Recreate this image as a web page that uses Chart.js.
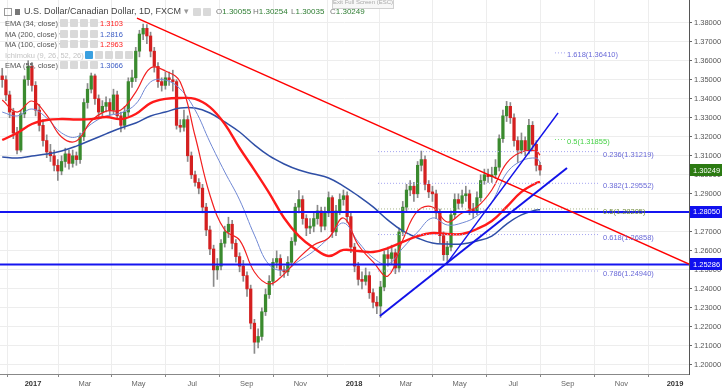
<!DOCTYPE html>
<html>
<head>
<meta charset="utf-8">
<script src="https://cdn.jsdelivr.net/npm/chart.js@4.4.1/dist/chart.umd.min.js"></script>
<style>
html,body{margin:0;padding:0;background:#fff;}
#wrap{position:relative;width:722px;height:391px;overflow:hidden;background:#fff;}
#c{position:absolute;left:0;top:0;}
.hd{position:absolute;font-family:"Liberation Sans",Arial,sans-serif;white-space:nowrap;line-height:1;}
.ib{position:absolute;width:8px;height:8px;background:#d9d9d9;border-radius:1px;}
.lg{font-size:7.5px;color:#555;}
</style>
</head>
<body>
<div id="wrap">
<canvas id="c" width="722" height="391"></canvas>
<!-- header -->
<div class="hd" style="left:4px;top:8px;width:6px;height:6px;border:1px solid #999;"></div>
<div class="hd" style="left:15px;top:9px;width:5px;height:6px;background:#777;"></div>
<div class="hd" style="left:24px;top:7px;font-size:9px;color:#444;">U.S. Dollar/Canadian Dollar, 1D, FXCM <span style="color:#999">▾</span></div>
<div class="ib" style="left:193px;top:8px;"></div>
<div class="ib" style="left:203px;top:8px;"></div>
<div class="hd" style="left:216px;top:8px;font-size:8px;color:#777;">O<span style="color:#2e7d32">1.30055</span></div>
<div class="hd" style="left:253px;top:8px;font-size:8px;color:#777;">H<span style="color:#2e7d32">1.30254</span></div>
<div class="hd" style="left:291px;top:8px;font-size:8px;color:#777;">L<span style="color:#2e7d32">1.30035</span></div>
<div class="hd" style="left:330px;top:8px;font-size:8px;color:#777;">C<span style="color:#2e7d32">1.30249</span></div>
<div class="hd" style="left:332px;top:-3px;width:60px;height:9px;border:1px solid #d0d0d0;background:#f7f7f7;font-size:6px;color:#aaa;text-align:center;padding-top:1px;">Exit Full Screen (ESC)</div>
<!-- legend rows -->
<div class="hd lg" style="left:5px;top:20px;">EMA (34, close) <span style="color:#aaa">▾</span></div>
<div class="ib" style="left:60px;top:19px;"></div><div class="ib" style="left:70px;top:19px;"></div><div class="ib" style="left:80px;top:19px;"></div><div class="ib" style="left:90px;top:19px;"></div>
<div class="hd lg" style="left:100px;top:20px;color:#ff2020;">1.3103</div>

<div class="hd lg" style="left:5px;top:31px;">MA (200, close) <span style="color:#aaa">▾</span></div>
<div class="ib" style="left:60px;top:30px;"></div><div class="ib" style="left:70px;top:30px;"></div><div class="ib" style="left:80px;top:30px;"></div><div class="ib" style="left:90px;top:30px;"></div>
<div class="hd lg" style="left:100px;top:31px;color:#3b5cc5;">1.2816</div>

<div class="hd lg" style="left:5px;top:41px;">MA (100, close) <span style="color:#aaa">▾</span></div>
<div class="ib" style="left:60px;top:40px;"></div><div class="ib" style="left:70px;top:40px;"></div><div class="ib" style="left:80px;top:40px;"></div><div class="ib" style="left:90px;top:40px;"></div>
<div class="hd lg" style="left:100px;top:41px;color:#ff2020;">1.2963</div>

<div class="hd lg" style="left:5px;top:52px;color:#c4c4c4;">Ichimoku (9, 26, 52, 26) <span>▾</span></div>
<div class="ib" style="left:85px;top:51px;background:#3aa0e0;"></div><div class="ib" style="left:95px;top:51px;"></div><div class="ib" style="left:105px;top:51px;"></div><div class="ib" style="left:115px;top:51px;"></div><div class="ib" style="left:125px;top:51px;"></div>

<div class="hd lg" style="left:5px;top:62px;">EMA (55, close) <span style="color:#aaa">▾</span></div>
<div class="ib" style="left:60px;top:61px;"></div><div class="ib" style="left:70px;top:61px;"></div><div class="ib" style="left:80px;top:61px;"></div><div class="ib" style="left:90px;top:61px;"></div>
<div class="hd lg" style="left:100px;top:62px;color:#3b5cc5;">1.3066</div>
</div>

<script>
// ---------- DATA ----------
// x axis: calendar days counted from 1 Jan 2017
const tickDays   = [0, 59, 120, 181, 243, 304, 365, 424, 485, 546, 608, 669, 730];
const tickLabels = ['2017','Mar','May','Jul','Sep','Nov','2018','Mar','May','Jul','Sep','Nov','2019'];
const yTicks = [1.20,1.21,1.22,1.23,1.24,1.25,1.26,1.27,1.28,1.29,1.30,1.31,1.32,1.33,1.34,1.35,1.36,1.37,1.38];

// candles (each candle ~3 trading days), first candle late Nov 2016
const candleStartDay = -35;
const candleStepDays = 4.217;
const opens = [
1.352,1.350,1.342,1.333,1.322,1.313,1.332,1.350,1.357,1.347,
1.334,1.326,1.318,1.312,1.310,1.305,1.302,1.307,1.311,1.306,
1.310,1.308,1.320,1.338,1.345,1.352,1.340,1.333,1.336,1.338,
1.334,1.342,1.331,1.326,1.333,1.349,1.351,1.365,1.374,1.377,
1.373,1.365,1.357,1.349,1.347,1.351,1.350,1.349,1.326,1.325,
1.329,1.310,1.300,1.296,1.293,1.283,1.271,1.261,1.250,1.252,
1.264,1.270,1.274,1.264,1.257,1.252,1.247,1.240,1.222,1.212,
1.215,1.228,1.237,1.244,1.254,1.256,1.250,1.249,1.254,1.265,
1.283,1.287,1.277,1.272,1.273,1.277,1.281,1.273,1.280,1.288,
1.270,1.281,1.287,1.289,1.278,1.262,1.252,1.245,1.244,1.247,
1.238,1.233,1.231,1.241,1.258,1.256,1.259,1.251,1.270,1.283,
1.292,1.294,1.290,1.305,1.308,1.295,1.291,1.290,1.280,1.268,
1.258,1.262,1.279,1.287,1.285,1.289,1.290,1.282,1.281,1.288,
1.297,1.300,1.299,1.300,1.304,1.319,1.331,1.336,1.330,1.318,
1.313,1.318,1.313,1.326,1.316,1.305];
const highs = [
1.356,1.352,1.344,1.335,1.325,1.334,1.352,1.360,1.359,1.349,
1.337,1.329,1.321,1.316,1.313,1.308,1.310,1.314,1.313,1.313,
1.312,1.322,1.340,1.348,1.3535,1.353,1.342,1.339,1.341,1.340,
1.345,1.344,1.333,1.336,1.351,1.355,1.367,1.376,1.3793,1.379,
1.375,1.367,1.359,1.351,1.354,1.354,1.355,1.350,1.329,1.334,
1.331,1.312,1.302,1.298,1.295,1.285,1.273,1.263,1.256,1.266,
1.273,1.2777,1.276,1.266,1.259,1.255,1.249,1.242,1.224,1.219,
1.230,1.240,1.247,1.256,1.260,1.258,1.252,1.257,1.267,1.285,
1.2917,1.289,1.279,1.277,1.280,1.284,1.283,1.283,1.291,1.289,
1.284,1.290,1.292,1.291,1.280,1.264,1.254,1.249,1.251,1.249,
1.240,1.236,1.244,1.260,1.262,1.263,1.261,1.272,1.286,1.295,
1.297,1.296,1.307,1.3125,1.310,1.297,1.294,1.292,1.282,1.270,
1.265,1.281,1.290,1.290,1.292,1.294,1.292,1.285,1.291,1.300,
1.303,1.303,1.304,1.308,1.321,1.334,1.3386,1.338,1.332,1.320,
1.322,1.320,1.3292,1.328,1.318,1.3065];
const lows = [
1.346,1.339,1.330,1.319,1.311,1.312,1.330,1.347,1.344,1.331,
1.323,1.315,1.309,1.307,1.302,1.297,1.300,1.304,1.303,1.304,
1.305,1.306,1.318,1.335,1.343,1.337,1.330,1.331,1.333,1.331,
1.332,1.329,1.3225,1.324,1.331,1.346,1.349,1.362,1.371,1.369,
1.362,1.354,1.346,1.344,1.345,1.347,1.344,1.324,1.3225,1.323,
1.307,1.298,1.294,1.290,1.280,1.268,1.258,1.2413,1.245,1.250,
1.262,1.267,1.261,1.254,1.249,1.244,1.236,1.219,1.2061,1.209,
1.213,1.226,1.235,1.242,1.251,1.247,1.246,1.247,1.252,1.263,
1.280,1.274,1.268,1.269,1.270,1.274,1.270,1.271,1.278,1.267,
1.268,1.279,1.284,1.275,1.259,1.249,1.242,1.240,1.242,1.235,
1.230,1.227,1.225,1.239,1.252,1.253,1.248,1.249,1.268,1.281,
1.289,1.286,1.288,1.302,1.292,1.288,1.286,1.277,1.264,1.255,
1.2527,1.260,1.277,1.282,1.283,1.286,1.279,1.277,1.279,1.286,
1.295,1.296,1.296,1.298,1.302,1.317,1.328,1.327,1.315,1.3065,
1.311,1.310,1.311,1.313,1.302,1.2998];
const closes = [
1.350,1.342,1.333,1.322,1.313,1.332,1.350,1.357,1.347,1.334,
1.326,1.318,1.312,1.310,1.305,1.302,1.307,1.311,1.306,1.310,
1.308,1.320,1.338,1.345,1.352,1.340,1.333,1.336,1.338,1.334,
1.342,1.331,1.326,1.333,1.349,1.351,1.365,1.374,1.377,1.373,
1.365,1.357,1.349,1.347,1.351,1.350,1.349,1.326,1.325,1.329,
1.310,1.300,1.296,1.293,1.283,1.271,1.261,1.250,1.252,1.264,
1.270,1.274,1.264,1.257,1.252,1.247,1.240,1.222,1.212,1.215,
1.228,1.237,1.244,1.254,1.256,1.250,1.249,1.254,1.265,1.283,
1.287,1.277,1.272,1.273,1.277,1.281,1.273,1.280,1.288,1.270,
1.281,1.287,1.289,1.278,1.262,1.252,1.245,1.244,1.247,1.238,
1.233,1.231,1.241,1.258,1.256,1.259,1.251,1.270,1.283,1.292,
1.294,1.290,1.305,1.308,1.295,1.291,1.290,1.280,1.268,1.258,
1.262,1.279,1.287,1.285,1.289,1.290,1.282,1.281,1.288,1.297,
1.300,1.299,1.300,1.304,1.319,1.331,1.336,1.330,1.318,1.313,
1.318,1.313,1.326,1.316,1.305,1.3025];

// moving averages read at these candle indices
const maIdx = [0,4,8,12,16,20,24,28,32,36,40,44,48,52,56,60,64,68,72,76,80,84,88,92,96,100,104,108,112,116,120,124,128,132,136,140,144,145];
const ema34 = [1.3393,1.3330,1.3388,1.3314,1.3199,1.3178,1.3283,1.3335,1.3341,1.3435,1.3562,1.3546,1.3488,1.3204,1.2894,1.2710,1.2657,1.2489,1.2426,1.2478,1.2563,1.2631,1.2668,1.2773,1.2631,1.2542,1.2468,1.2657,1.2810,1.2831,1.2752,1.2799,1.2831,1.2920,1.3062,1.3120,1.3125,1.3103];
const ma200 = [1.3094,1.3088,1.3099,1.3109,1.3125,1.3151,1.3183,1.3215,1.3246,1.3272,1.3309,1.3330,1.3351,1.3351,1.3325,1.3278,1.3225,1.3157,1.3099,1.3057,1.3025,1.3004,1.2983,1.2941,1.2889,1.2831,1.2762,1.2705,1.2668,1.2641,1.2636,1.2636,1.2652,1.2678,1.2741,1.2789,1.2815,1.2816];
const ma100 = [1.3183,1.3220,1.3267,1.3288,1.3293,1.3291,1.3293,1.3304,1.3293,1.3320,1.3377,1.3399,1.3404,1.3399,1.3356,1.3267,1.3141,1.3025,1.2904,1.2773,1.2678,1.2615,1.2573,1.2605,1.2599,1.2594,1.2615,1.2647,1.2678,1.2694,1.2689,1.2689,1.2715,1.2757,1.2831,1.2910,1.2957,1.2963];
const ema55 = [1.3330,1.3309,1.3346,1.3299,1.3220,1.3199,1.3267,1.3309,1.3325,1.3372,1.3488,1.3498,1.3451,1.3341,1.3172,1.3015,1.2868,1.2683,1.2526,1.2499,1.2547,1.2599,1.2668,1.2747,1.2647,1.2563,1.2531,1.2615,1.2699,1.2773,1.2736,1.2747,1.2783,1.2857,1.3009,1.3073,1.3088,1.3066];

// drawings (day, price)
const hLevels = [1.28050, 1.25286];
const redTrend   = [[118.2, 1.3824], [745.9, 1.2531]];
const blueTrendA = [[394.5, 1.2258], [607.2, 1.3036]];
const blueTrendB = [[470.7, 1.2536], [597.0, 1.3325]];
const fibNames  = ['0.236','0.382','0.5','0.618','0.786'];
const fibLevels = [1.31219, 1.29552, 1.28205, 1.26858, 1.24940];
const fibRange  = [392.3, 643.5];
const extNames  = ['1.618','0.5'];
const extLevels = [1.36410, 1.31855];
const extRange  = [593.5, 605.0];
const lastClose = 1.30249;

// ---------- CHART ----------
const xMin = -37.52, xMax = 745.88;
const yMin = 1.195268, yMax = 1.391904;
const dayOf = i => candleStartDay + i * candleStepDays;
const FONT = '"Liberation Sans", Arial, sans-serif';

const wickData = highs.map((h, i) => ({x: dayOf(i), y: [lows[i], h]}));
const bodyData = opens.map((o, i) => ({x: dayOf(i), y: [Math.min(o, closes[i]), Math.max(o, closes[i]) + (o === closes[i] ? 0.0003 : 0)]}));
const bodyColors = opens.map((o, i) => closes[i] >= o ? '#3a8a2e' : '#d42020');
const maLine = (arr) => arr.map((v, k) => ({x: dayOf(maIdx[k]), y: v}));
const seg = (p) => p.map(q => ({x: q[0], y: q[1]}));

const datasets = [
  {type:'bar', data: wickData, backgroundColor:'#8a8a8a', barThickness:1, grouped:false, order:20},
  {type:'bar', data: bodyData, backgroundColor: bodyColors, barThickness:2.6, grouped:false, order:19},
  {type:'line', data: maLine(ma200), borderColor:'#2f4fa6', borderWidth:1.5, pointRadius:0, tension:0.4, order:15},
  {type:'line', data: maLine(ema55), borderColor:'#7088d4', borderWidth:1, pointRadius:0, tension:0.4, order:14},
  {type:'line', data: maLine(ma100), borderColor:'#ff1a1a', borderWidth:2.4, pointRadius:0, tension:0.4, order:13},
  {type:'line', data: maLine(ema34), borderColor:'#f22020', borderWidth:1.2, pointRadius:0, tension:0.4, order:12},
];
fibLevels.forEach((lv, k) => datasets.push({type:'line', data:[{x:fibRange[0], y:lv},{x:fibRange[1], y:lv}],
  borderColor: k === 2 ? '#a8b48a' : '#a4a4f0', borderWidth:1, borderDash:[1,2], pointRadius:0, order:8}));
extLevels.forEach((lv, k) => datasets.push({type:'line', data:[{x:extRange[0], y:lv},{x:extRange[1], y:lv}],
  borderColor: k === 1 ? '#77e077' : '#a4a4f0', borderWidth:1, borderDash:[1,2], pointRadius:0, order:8}));
hLevels.forEach(lv => datasets.push({type:'line', data:[{x:xMin, y:lv},{x:xMax, y:lv}],
  borderColor:'#1515f0', borderWidth:2, pointRadius:0, order:6}));
datasets.push({type:'line', data: seg(redTrend), borderColor:'#ff0000', borderWidth:1.4, pointRadius:0, order:5});
datasets.push({type:'line', data: seg(blueTrendA), borderColor:'#1212e8', borderWidth:2, pointRadius:0, order:4});
datasets.push({type:'line', data: seg(blueTrendB), borderColor:'#1212e8', borderWidth:1.4, pointRadius:0, order:4});

const overlay = {
  id: 'overlay',
  afterDraw(chart) {
    const ctx = chart.ctx, xs = chart.scales.x, ys = chart.scales.y;
    ctx.save();
    ctx.font = '7.5px ' + FONT;
    ctx.textBaseline = 'middle';
    ctx.textAlign = 'left';
    const fx = xs.getPixelForValue(fibRange[1]) + 4;
    fibLevels.forEach((lv, k) => {
      ctx.fillStyle = k === 2 ? '#6f8a3a' : '#6a6ad8';
      ctx.fillText(fibNames[k] + '(' + lv.toFixed(5) + ')', fx, ys.getPixelForValue(lv) + 3);
    });
    const ex = xs.getPixelForValue(extRange[1]) + 2;
    extLevels.forEach((lv, k) => {
      ctx.fillStyle = k === 1 ? '#44d044' : '#6a6ad8';
      ctx.fillText(extNames[k] + '(' + lv.toFixed(5) + ')', ex, ys.getPixelForValue(lv) + 2);
    });
    // price badges on the axis
    const badge = (v, col) => {
      const y = ys.getPixelForValue(v);
      ctx.fillStyle = col;
      ctx.fillRect(ys.left + 1, Math.round(y) - 6, chart.width - ys.left - 1, 12);
      ctx.fillStyle = '#fff';
      ctx.fillText(v.toFixed(5), ys.left + 4, y + 0.5);
    };
    badge(lastClose, '#2b7a12');
    hLevels.forEach(v => badge(v, '#1010ee'));
    ctx.restore();
  }
};

new Chart(document.getElementById('c'), {
  type: 'bar',
  data: { datasets },
  options: {
    responsive: false,
    animation: false,
    events: [],
    layout: { padding: 0 },
    plugins: { legend: { display: false }, tooltip: { enabled: false } },
    scales: {
      x: {
        type: 'linear', min: xMin, max: xMax, offset: false,
        afterBuildTicks: s => { s.ticks = tickDays.map(v => ({value: v})); },
        afterFit: s => { s.height = 17; s.paddingLeft = 0; s.paddingRight = 0; },
        ticks: {
          autoSkip: false, maxRotation: 0, padding: 2,
          color: (c) => (c.tick && tickLabels[tickDays.indexOf(c.tick.value)].length === 4) ? '#333' : '#666',
          font: (c) => ({ family: FONT, size: 7.5, weight: (c.tick && tickLabels[tickDays.indexOf(c.tick.value)].length === 4) ? 'bold' : 'normal' }),
          callback: (v) => { const k = tickDays.indexOf(v); return k >= 0 ? tickLabels[k] : ''; }
        },
        grid: { color: '#ededed', tickLength: 3, tickColor: '#888' },
        border: { color: '#888' }
      },
      y: {
        type: 'linear', position: 'right', min: yMin, max: yMax,
        afterBuildTicks: s => { s.ticks = yTicks.map(v => ({value: v})); },
        afterFit: s => { s.width = 33; s.paddingTop = 0; s.paddingBottom = 0; },
        ticks: { padding: 2, color: '#555', font: { family: FONT, size: 7.5 }, callback: v => Number(v).toFixed(5) },
        grid: { color: '#ededed', tickLength: 3, tickColor: '#666' },
        border: { color: '#555' }
      }
    }
  },
  plugins: [overlay]
});
</script>
</body>
</html>
